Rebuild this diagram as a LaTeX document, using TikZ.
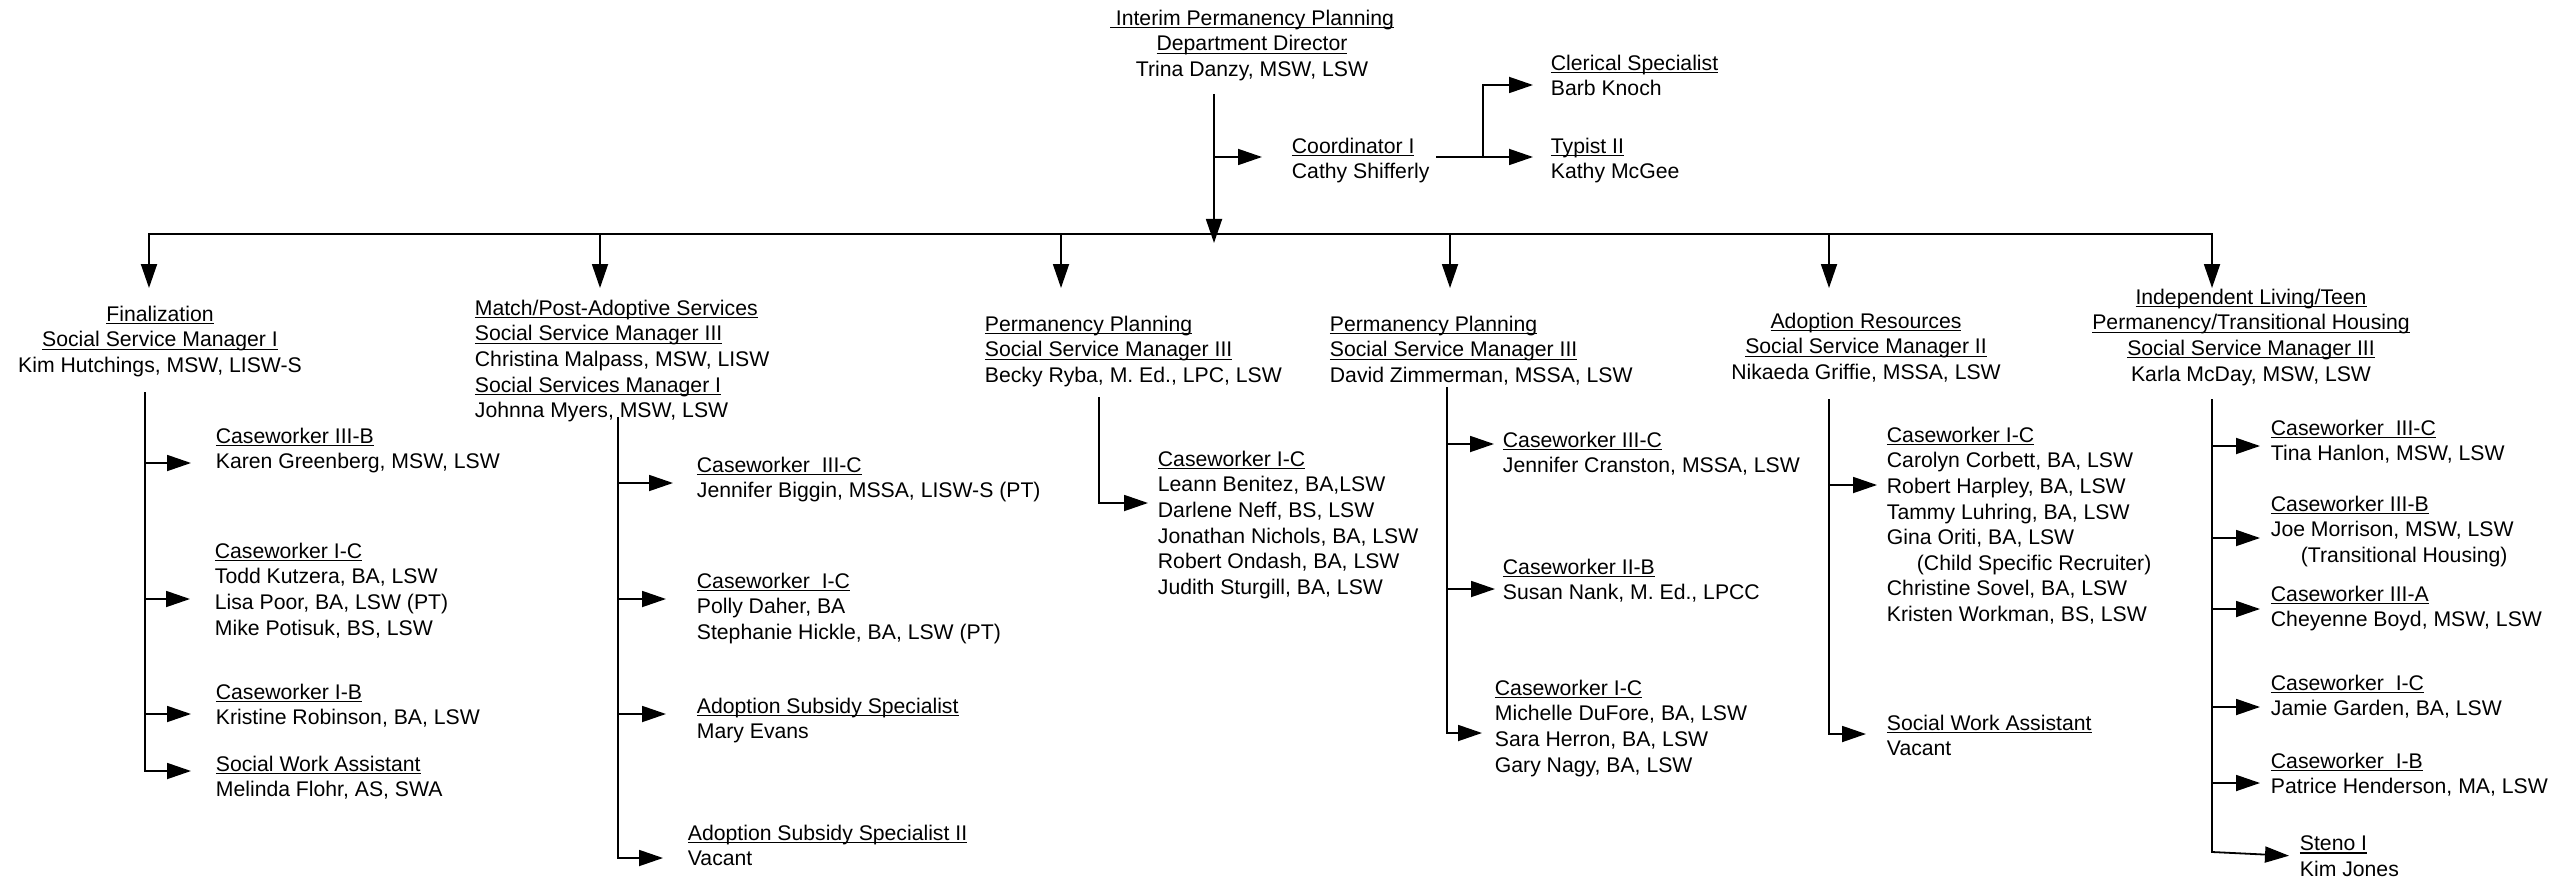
\documentclass[tikz,border=0pt]{standalone}
\usepackage{fontspec}
\setmainfont{Liberation Sans}[Ligatures=CommonOff]
\usetikzlibrary{arrows.meta}
\newsavebox{\ttlbox}
\newcommand{\ttl}[1]{\leavevmode\sbox{\ttlbox}{#1}\rlap{\rule[-1.5pt]{\wd\ttlbox}{0.65pt}}\usebox{\ttlbox}}
\frenchspacing
\begin{document}
\begin{tikzpicture}[x=0.5pt, y=-0.5pt, line width=0.9pt,
    font=\fontsize{10.6pt}{12.8pt}\selectfont,
    arr/.style={-{Triangle[length=12pt, width=8pt]}},
    head/.style={align=center, anchor=north, inner sep=0pt},
    unit/.style={align=left, anchor=north west, inner sep=0pt}]
    \useasboundingbox (0,0) rectangle (2562,877);

    \node [head] (dir) at (1252,9) {\ttl{\ Interim Permanency Planning}\\ \ttl{Department Director}\\ Trina Danzy, MSW, LSW};
    \node [unit] (coord) at (1291,137) {\ttl{Coordinator I}\\ Cathy Shifferly};
    \node [unit] (cler) at (1550,54) {\ttl{Clerical Specialist}\\ Barb Knoch};
    \node [unit] (typ) at (1550,137) {\ttl{Typist II}\\ Kathy McGee};

    \node [head] (fin) at (160,305) {\ttl{Finalization}\\ \ttl{Social Service Manager I}\\ Kim Hutchings, MSW, LISW-S};
    \node [unit] (match) at (474,299) {\ttl{Match/Post-Adoptive Services}\\ \ttl{Social Service Manager III}\\ Christina Malpass, MSW, LISW\\ \ttl{Social Services Manager I}\\ Johnna Myers, MSW, LSW};
    \node [unit] (pp1) at (984,315) {\ttl{Permanency Planning}\\ \ttl{Social Service Manager III}\\ Becky Ryba, M. Ed., LPC, LSW};
    \node [unit] (pp2) at (1329,315) {\ttl{Permanency Planning}\\ \ttl{Social Service Manager III}\\ David Zimmerman, MSSA, LSW};
    \node [head] (adr) at (1866,312) {\ttl{Adoption Resources}\\ \ttl{Social Service Manager II}\\ Nikaeda Griffie, MSSA, LSW};
    \node [head] (ilt) at (2251,288) {\ttl{Independent Living/Teen}\\ \ttl{Permanency/Transitional Housing}\\ \ttl{Social Service Manager III}\\ Karla McDay, MSW, LSW};

    \node [unit] (fin1) at (215,427) {\ttl{Caseworker III-B}\\ Karen Greenberg, MSW, LSW};
    \node [unit] (fin2) at (214,542) {\ttl{Caseworker I-C}\\ Todd Kutzera, BA, LSW\\ Lisa Poor, BA, LSW (PT)\\ Mike Potisuk, BS, LSW};
    \node [unit] (fin3) at (215,683) {\ttl{Caseworker I-B}\\ Kristine Robinson, BA, LSW};
    \node [unit] (fin4) at (215,755) {\ttl{Social Work Assistant}\\ Melinda Flohr, AS, SWA};

    \node [unit] (mt1) at (696,456) {\ttl{Caseworker\ \ III-C}\\ Jennifer Biggin, MSSA, LISW-S (PT)};
    \node [unit] (mt2) at (696,572) {\ttl{Caseworker\ \ I-C}\\ Polly Daher, BA\\ Stephanie Hickle, BA, LSW (PT)};
    \node [unit] (mt3) at (696,697) {\ttl{Adoption Subsidy Specialist}\\ Mary Evans};
    \node [unit] (mt4) at (687,824) {\ttl{Adoption Subsidy Specialist II}\\ Vacant};

    \node [unit] (pp1a) at (1157,450) {\ttl{Caseworker I-C}\\ Leann Benitez, BA,LSW\\ Darlene Neff, BS, LSW\\ Jonathan Nichols, BA, LSW\\ Robert Ondash, BA, LSW\\ Judith Sturgill, BA, LSW};

    \node [unit] (pp2a) at (1502,431) {\ttl{Caseworker III-C}\\ Jennifer Cranston, MSSA, LSW};
    \node [unit] (pp2b) at (1502,558) {\ttl{Caseworker II-B}\\ Susan Nank, M. Ed., LPCC};
    \node [unit] (pp2c) at (1494,679) {\ttl{Caseworker I-C}\\ Michelle DuFore, BA, LSW\\ Sara Herron, BA, LSW\\ Gary Nagy, BA, LSW};

    \node [unit] (adr1) at (1886,426) {\ttl{Caseworker I-C}\\ Carolyn Corbett, BA, LSW\\ Robert Harpley, BA, LSW\\ Tammy Luhring, BA, LSW\\ Gina Oriti, BA, LSW\\ \hspace*{15pt}(Child Specific Recruiter)\\ Christine Sovel, BA, LSW\\ Kristen Workman, BS, LSW};
    \node [unit] (adr2) at (1886,714) {\ttl{Social Work Assistant}\\ Vacant};

    \node [unit] (ilt1) at (2270,419) {\ttl{Caseworker\ \ III-C}\\ Tina Hanlon, MSW, LSW};
    \node [unit] (ilt2) at (2270,495) {\ttl{Caseworker III-B}\\ Joe Morrison, MSW, LSW\\ \hspace*{15pt}(Transitional Housing)};
    \node [unit] (ilt3) at (2270,585) {\ttl{Caseworker III-A}\\ Cheyenne Boyd, MSW, LSW};
    \node [unit] (ilt4) at (2270,674) {\ttl{Caseworker\ \ I-C}\\ Jamie Garden, BA, LSW};
    \node [unit] (ilt5) at (2270,752) {\ttl{Caseworker\ \ I-B}\\ Patrice Henderson, MA, LSW};
    \node [unit] (ilt6) at (2299,835) {\ttl{Steno I}\\ Kim Jones};

    \coordinate (d0) at (1214,94);
    \coordinate (d1) at (1214,234);
    \coordinate (d2) at (1214,243);
    \coordinate (c1) at (1483,157);
    \coordinate (c2) at (1483,85);
    \coordinate (tip) at (0,288);
    \coordinate (b1) at (149,234);
    \coordinate (b2) at (600,234);
    \coordinate (b3) at (1061,234);
    \coordinate (b4) at (1450,234);
    \coordinate (b5) at (1829,234);
    \coordinate (b6) at (2212,234);

    \coordinate (f0) at (145,392);
    \coordinate (f1) at (145,463);
    \coordinate (f2) at (145,599);
    \coordinate (f3) at (145,714);
    \coordinate (f4) at (145,771);
    \coordinate (m0) at (618,417);
    \coordinate (m1) at (618,483);
    \coordinate (m2) at (618,599);
    \coordinate (m3) at (618,714);
    \coordinate (m4) at (618,858);
    \coordinate (p0) at (1099,397);
    \coordinate (p1) at (1099,503);
    \coordinate (g0) at (1447,387);
    \coordinate (g1) at (1447,444);
    \coordinate (g2) at (1447,589);
    \coordinate (g3) at (1447,733);
    \coordinate (a0) at (1829,399);
    \coordinate (a1) at (1829,485);
    \coordinate (a2) at (1829,734);
    \coordinate (i0) at (2212,399);
    \coordinate (i1) at (2212,446);
    \coordinate (i2) at (2212,538);
    \coordinate (i3) at (2212,609);
    \coordinate (i4) at (2212,707);
    \coordinate (i5) at (2212,783);
    \coordinate (i6) at (2212,852);

    \draw [arr] (d0) -- (d2);
    \draw [arr, shorten >=14.5pt] (d0 |- c1) -- (c1 -| coord.west);
    \draw [arr, shorten <=3pt, shorten >=8.5pt] (c1 -| coord.east) -- (c1 -| typ.west);
    \draw [arr, shorten >=8.5pt] (c1) -- (c2) -- (c2 -| cler.west);

    \draw [arr, line width=1pt] (d1) -- (b1) -- (b1 |- tip);
    \draw [arr, line width=1pt] (d1) -- (b6) -- (b6 |- tip);
    \draw [arr] (b2) -- (b2 |- tip);
    \draw [arr] (b3) -- (b3 |- tip);
    \draw [arr] (b4) -- (b4 |- tip);
    \draw [arr] (b5) -- (b5 |- tip);

    \draw [arr, shorten >=12pt] (f1) -- (f1 -| fin1.west);
    \draw [arr, shorten >=12pt] (f2) -- (f2 -| fin2.west);
    \draw [arr, shorten >=12pt] (f3) -- (f3 -| fin3.west);
    \draw [arr, shorten >=12pt] (f0) -- (f4) -- (f4 -| fin4.west);

    \draw [arr, shorten >=11.5pt] (m1) -- (m1 -| mt1.west);
    \draw [arr, shorten >=15pt] (m2) -- (m2 -| mt2.west);
    \draw [arr, shorten >=15pt] (m3) -- (m3 -| mt3.west);
    \draw [arr, shorten >=12pt] (m0) -- (m4) -- (m4 -| mt4.west);

    \draw [arr, shorten >=4.5pt] (p0) -- (p1) -- (p1 -| pp1a.west);

    \draw [arr, shorten >=4pt] (g1) -- (g1 -| pp2a.west);
    \draw [arr, shorten >=3.5pt] (g2) -- (g2 -| pp2b.west);
    \draw [arr, shorten >=6pt] (g0) -- (g3) -- (g3 -| pp2c.west);

    \draw [arr, shorten >=4.5pt] (a1) -- (a1 -| adr1.west);
    \draw [arr, shorten >=10pt] (a0) -- (a2) -- (a2 -| adr2.west);

    \draw [arr, shorten >=5pt] (i1) -- (i1 -| ilt1.west);
    \draw [arr, shorten >=5pt] (i2) -- (i2 -| ilt2.west);
    \draw [arr, shorten >=5pt] (i3) -- (i3 -| ilt3.west);
    \draw [arr, shorten >=5pt] (i4) -- (i4 -| ilt4.west);
    \draw [arr, shorten >=5pt] (i5) -- (i5 -| ilt5.west);
    \draw [arr, shorten >=5pt] (i0) -- (i6) -- (ilt6.west);
\end{tikzpicture}
\end{document}
